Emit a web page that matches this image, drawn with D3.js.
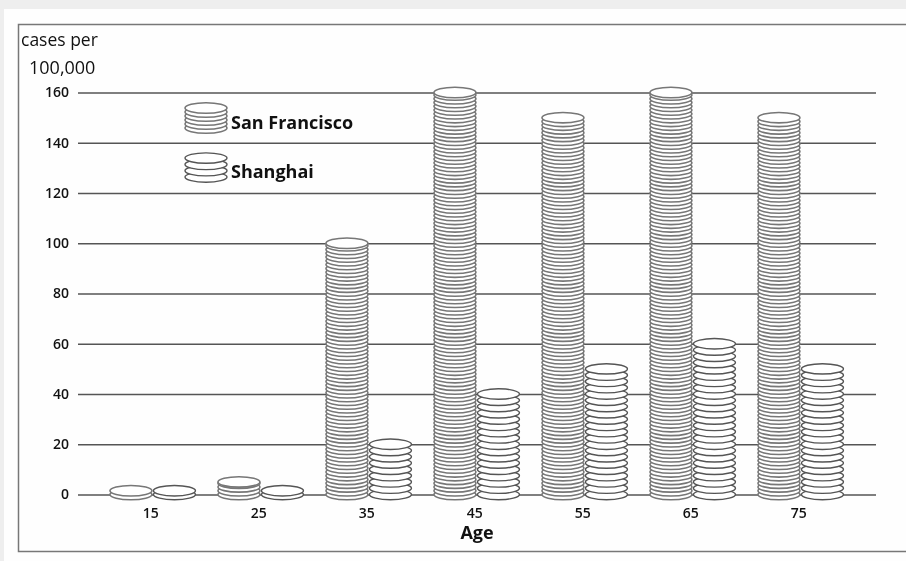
<!DOCTYPE html>
<html>
<head>
<meta charset="utf-8">
<script src="https://cdnjs.cloudflare.com/ajax/libs/d3/7.8.5/d3.min.js"></script>
<style>
    html, body { margin: 0; padding: 0; background: #eeeeee; }
    svg { display: block; filter: blur(0.6px); }
    text { font-family: "Open Sans", sans-serif; fill: #111; }
</style>
</head>
<body>
<svg id="chart"></svg>
<script>
var ages = ["15", "25", "35", "45", "55", "65", "75"];
var cityNames = ["San Francisco", "Shanghai"];
var sanFrancisco = [1.5, 5, 100, 160, 150, 160, 150];
var shanghai = [1.5, 1.5, 20, 40, 50, 60, 50];
var yTicks = [0, 20, 40, 60, 80, 100, 120, 140, 160];
// how many cases one disc stands for
var discUnits = [1.5, 2.5];

var width = 906, height = 561;

var svg = d3.select("#chart").attr("width", width).attr("height", height);

//paper + frame
svg.append("rect").attr("x", 4).attr("y", 9).attr("width", width - 4).attr("height", height - 9).attr("fill", "#fefefe");
svg.append("path").attr("d", "M906,24.5H18.5V551.5H906").attr("fill", "none").attr("stroke", "#777").attr("stroke-width", 1.5);

var y = d3.scaleLinear().domain([0, 160]).range([494.5, 92.5]);
var x = d3.scaleBand().domain(ages).range([98.7, 854.7]);
var xCity = d3.scaleBand().domain(cityNames).range([10.5, 97.5]);

var yAxis = svg.append("g")
    .attr("transform", "translate(876,0)")
    .call(d3.axisLeft(y).tickValues(yTicks).tickSize(798).tickPadding(9));
yAxis.select(".domain").remove();
yAxis.selectAll("line").attr("stroke", "#555").attr("stroke-width", 1.6);
yAxis.selectAll("text").style("font-size", "14px").style("font-weight", 600).style("font-family", '"Open Sans", sans-serif');

var xAxis = svg.append("g")
    .attr("transform", "translate(-2,508)")
    .call(d3.axisBottom(x).tickSize(0).tickPadding(0));
xAxis.select(".domain").remove();
xAxis.selectAll("text").style("font-size", "14px").style("font-weight", 600).style("font-family", '"Open Sans", sans-serif');

function drawStack(g, value, unit, cx, scale, lineC, lineW) {
    // stack from bottom to top so each disc hides the one under it
    var levels = d3.range(0, value, unit);
    levels.push(value);
    g.selectAll(null)
        .data(levels)
        .join("ellipse")
        .attr("cx", cx)
        .attr("cy", d => scale(d))
        .attr("rx", 21)
        .attr("ry", 5.2)
        .attr("fill", "#fff")
        .attr("stroke", lineC)
        .attr("stroke-width", lineW);
}

var marks = svg.append("g");
ages.forEach(function(age, i) {
    drawStack(marks.append("g"), sanFrancisco[i], discUnits[0], x(age) + xCity(cityNames[0]) + xCity.bandwidth() / 2, y, "#777", 1.6);
    drawStack(marks.append("g"), shanghai[i], discUnits[1], x(age) + xCity(cityNames[1]) + xCity.bandwidth() / 2, y, "#555", 1.4);
});

// legend
var legendY = [128, 177];
cityNames.forEach(function(name, i) {
    var lg = svg.append("g");
    var step = i == 0 ? 4 : 6.3;
    var n = i == 0 ? 6 : 4;
    var scale = d3.scaleLinear().domain([0, 1]).range([legendY[i], legendY[i] - step]);
    drawStack(lg, n - 1, 1, 206, scale, i == 0 ? "#777" : "#555", i == 0 ? 1.6 : 1.4);
    lg.append("text").attr("x", 231).attr("y", legendY[i] + 0.5)
        .style("font-size", "18px").style("font-weight", 700).text(name);
});

svg.append("text").attr("x", 21).attr("y", 46).style("font-size", "17.5px").style("font-weight", 400).text("cases per");
svg.append("text").attr("x", 29).attr("y", 74).style("font-size", "18px").style("font-weight", 400).text("100,000");
svg.append("text").attr("x", 477).attr("y", 538.5).attr("text-anchor", "middle")
    .style("font-size", "18px").style("font-weight", 700).text("Age");
</script>
</body>
</html>
